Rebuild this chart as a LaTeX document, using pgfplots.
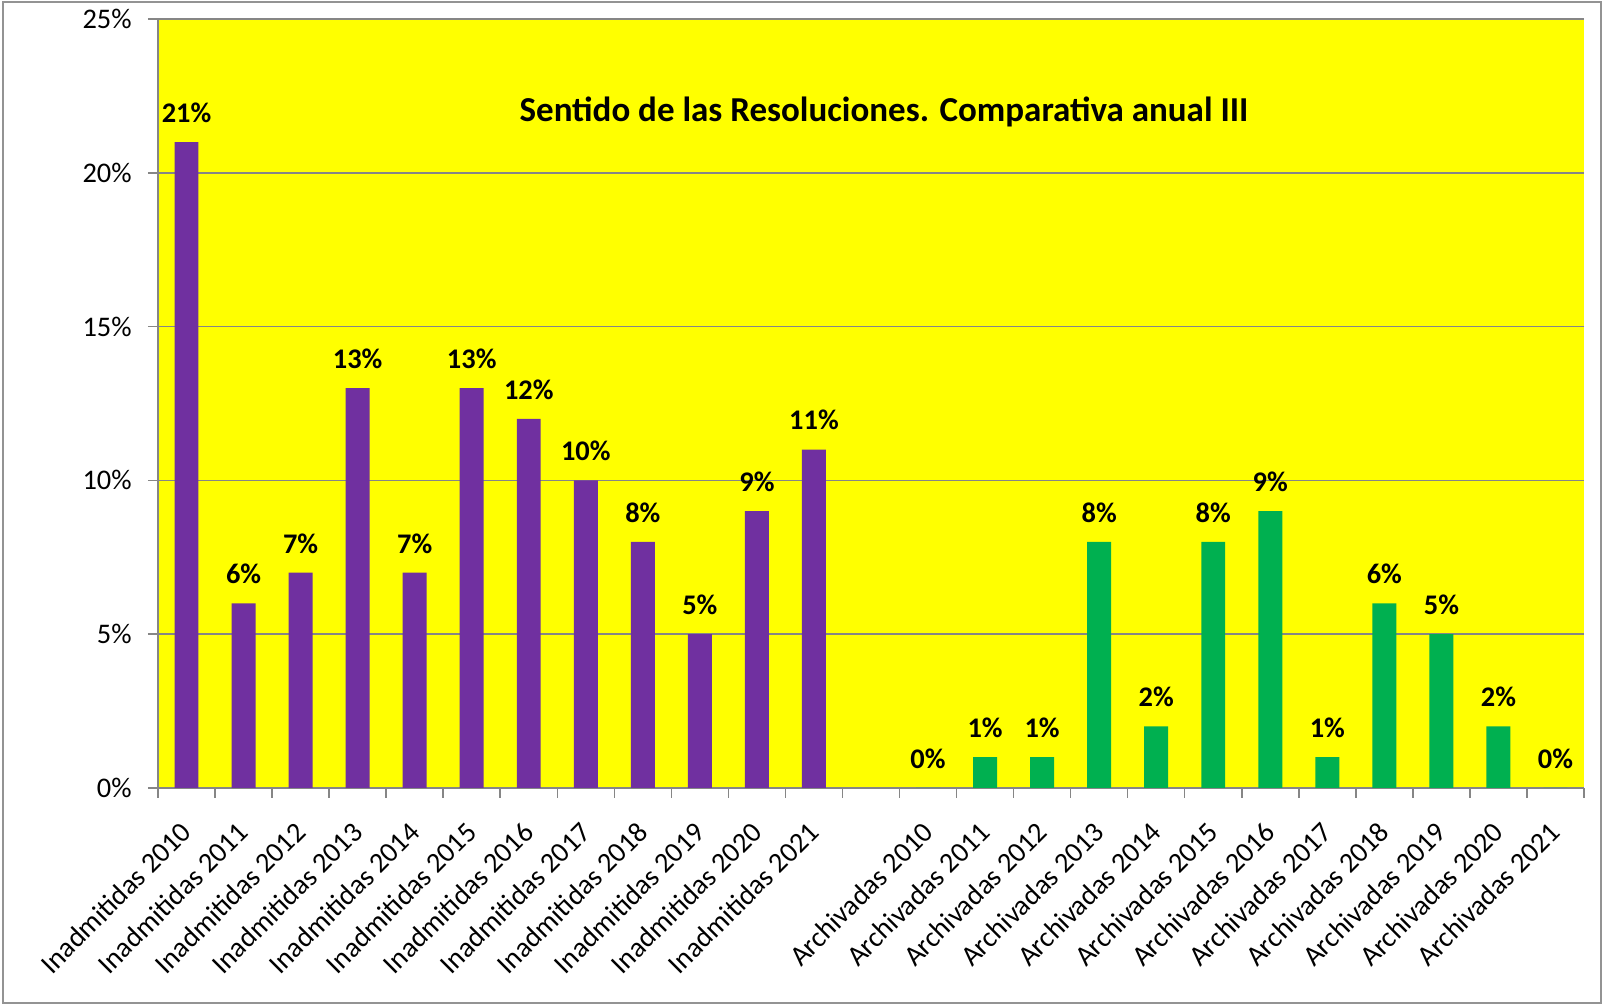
\documentclass[border=0pt]{standalone}
\usepackage{fontspec}
\setmainfont{Carlito}
\usepackage{pgfplots}
\pgfplotsset{compat=1.18}
\definecolor{barpurple}{HTML}{7030A0}
\definecolor{bargreen}{HTML}{00B050}
\definecolor{bgyellow}{HTML}{FFFF00}
\definecolor{axgray}{HTML}{868686}
\definecolor{bordergray}{HTML}{939393}
\begin{document}
\begin{tikzpicture}
\useasboundingbox (-79pt,-108.5pt) rectangle (722.5pt,394pt);
\draw[bordergray, line width=0.9pt] (-77.5pt,393pt) rectangle (721.5pt,-107.5pt);
\begin{axis}[
  scale only axis, width=713pt, height=384.5pt,
  xmin=-0.5, xmax=24.5, ymin=0, ymax=25,
  axis background/.style={fill=bgyellow},
  axis x line*=bottom, axis y line*=left,
  axis line style={axgray, line width=1pt},
  ybar, bar shift=0pt, bar width=0.42,
  ytick={0,5,10,15,20,25},
  yticklabels={0\%,5\%,10\%,15\%,20\%,25\%},
  ymajorgrids, major grid style={axgray, line width=0.75pt},
  tick align=outside,
  major tick length=5pt, minor tick length=5pt,
  tick style={axgray, line width=0.75pt},
  xtick={0,1,2,3,4,5,6,7,8,9,10,11,13,14,15,16,17,18,19,20,21,22,23,24},
  xticklabels={Inadmitidas 2010,Inadmitidas 2011,Inadmitidas 2012,Inadmitidas 2013,Inadmitidas 2014,Inadmitidas 2015,Inadmitidas 2016,Inadmitidas 2017,Inadmitidas 2018,Inadmitidas 2019,Inadmitidas 2020,Inadmitidas 2021,Archivadas 2010,Archivadas 2011,Archivadas 2012,Archivadas 2013,Archivadas 2014,Archivadas 2015,Archivadas 2016,Archivadas 2017,Archivadas 2018,Archivadas 2019,Archivadas 2020,Archivadas 2021},
  minor xtick={-0.5,0.5,1.5,2.5,3.5,4.5,5.5,6.5,7.5,8.5,9.5,10.5,11.5,12.5,13.5,14.5,15.5,16.5,17.5,18.5,19.5,20.5,21.5,22.5,23.5,24.5},
  major x tick style={draw=none},
  xticklabel style={rotate=45, anchor=east, inner sep=0pt, font=\fontsize{14.2}{17}\selectfont},
  xticklabel shift=14.5pt,
  yticklabel style={anchor=east, inner sep=0pt, font=\fontsize{14.2}{17}\selectfont},
  yticklabel shift=8pt,
  /pgf/number format/assume math mode=true,
  nodes near coords={\pgfmathprintnumber{\pgfplotspointmeta}\%},
  every node near coord/.append style={font=\bfseries\fontsize{14.2}{17}\selectfont, anchor=south, inner sep=0pt, yshift=9.5pt, text=black},
]
\addplot[fill=barpurple, draw=none] coordinates {
  (0,21) (1,6) (2,7) (3,13) (4,7) (5,13) (6,12) (7,10) (8,8) (9,5) (10,9) (11,11)
};
\addplot[fill=bargreen, draw=none] coordinates {
  (13,0) (14,1) (15,1) (16,8) (17,2) (18,8) (19,9) (20,1) (21,6) (22,5) (23,2) (24,0)
};
\end{axis}
\node[anchor=base, font=\bfseries\fontsize{17.5}{21}\selectfont] at (363pt,333pt) {Sentido de las Resoluciones. Comparativa anual III};
\end{tikzpicture}
\end{document}
